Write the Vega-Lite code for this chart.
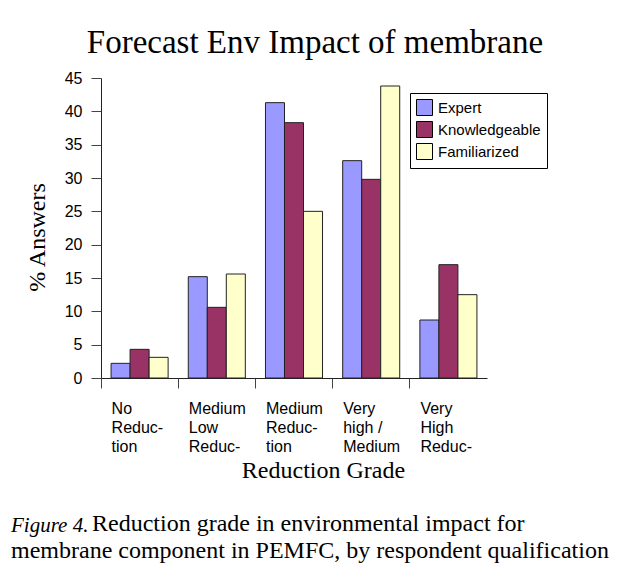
{
  "$schema": "https://vega.github.io/schema/vega-lite/v6.json",
  "autosize": {"type": "pad"},
  "padding": {"left": 11, "top": 27, "right": 5, "bottom": 5},
  "background": "white",
  "title": {
    "text": "Forecast Env Impact of membrane",
    "font": "Liberation Serif",
    "fontSize": 33,
    "fontWeight": "normal",
    "color": "black",
    "anchor": "middle",
    "dx": 5,
    "offset": 10
  },
  "vconcat": [
    {
      "title": {
        "text": "Reduction grade in environmental impact for",
        "orient": "bottom",
        "anchor": "start",
        "frame": "group",
        "dx": -9,
        "offset": -51,
        "font": "Liberation Serif",
        "fontStyle": "normal",
        "fontWeight": "normal",
        "fontSize": 24,
        "color": "black"
      },
      "vconcat": [
        {
          "width": 386,
          "height": 300,
          "title": {
            "text": "Figure 4.",
            "subtitle": "membrane component in PEMFC, by respondent qualification",
            "orient": "bottom",
            "anchor": "start",
            "frame": "group",
            "dx": -90,
            "offset": 33,
            "font": "Liberation Serif",
            "fontStyle": "italic",
            "fontWeight": "normal",
            "fontSize": 21,
            "color": "black",
            "subtitleFont": "Liberation Serif",
            "subtitleFontSize": 24,
            "subtitleColor": "black",
            "subtitlePadding": 3
          },
          "data": {
            "values": [
              {"grade": "No Reduction", "group": "Expert", "value": 2.2},
              {"grade": "No Reduction", "group": "Knowledgeable", "value": 4.3},
              {"grade": "No Reduction", "group": "Familiarized", "value": 3.1},
              {"grade": "Medium Low Reduction", "group": "Expert", "value": 15.2},
              {"grade": "Medium Low Reduction", "group": "Knowledgeable", "value": 10.6},
              {"grade": "Medium Low Reduction", "group": "Familiarized", "value": 15.6},
              {"grade": "Medium Reduction", "group": "Expert", "value": 41.3},
              {"grade": "Medium Reduction", "group": "Knowledgeable", "value": 38.3},
              {"grade": "Medium Reduction", "group": "Familiarized", "value": 25.0},
              {"grade": "Very high / Medium", "group": "Expert", "value": 32.6},
              {"grade": "Very high / Medium", "group": "Knowledgeable", "value": 29.8},
              {"grade": "Very high / Medium", "group": "Familiarized", "value": 43.8},
              {"grade": "Very High Reduction", "group": "Expert", "value": 8.7},
              {"grade": "Very High Reduction", "group": "Knowledgeable", "value": 17.0},
              {"grade": "Very High Reduction", "group": "Familiarized", "value": 12.5}
            ]
          },
          "mark": {"type": "bar", "stroke": "#222", "strokeWidth": 1},
          "encoding": {
            "x": {
              "field": "grade",
              "type": "nominal",
              "sort": ["No Reduction", "Medium Low Reduction", "Medium Reduction", "Very high / Medium", "Very High Reduction"],
              "scale": {"paddingInner": 0, "paddingOuter": 0},
              "axis": {
                "title": "Reduction Grade",
                "titleFont": "Liberation Serif",
                "titleFontSize": 24,
                "titleFontWeight": "normal",
                "titleColor": "black",
                "titleX": 222,
                "titlePadding": 4,
                "bandPosition": 0,
                "labelAngle": 0,
                "labelAlign": "left",
                "labelBaseline": "top",
                "labelOffset": -28,
                "labelPadding": 12,
                "labelFont": "Liberation Sans",
                "labelFontSize": 16,
                "labelLineHeight": 19,
                "labelColor": "black",
                "labelExpr": "datum.value == 'No Reduction' ? ['No', 'Reduc-', 'tion'] : datum.value == 'Medium Low Reduction' ? ['Medium', 'Low', 'Reduc-'] : datum.value == 'Medium Reduction' ? ['Medium', 'Reduc-', 'tion'] : datum.value == 'Very high / Medium' ? ['Very', 'high /', 'Medium'] : ['Very', 'High', 'Reduc-']",
                "tickSize": 10,
                "tickColor": "#444",
                "domainColor": "#222",
                "grid": false
              }
            },
            "xOffset": {
              "field": "group",
              "type": "nominal",
              "sort": ["Expert", "Knowledgeable", "Familiarized"],
              "scale": {"paddingInner": 0, "paddingOuter": 0.53}
            },
            "y": {
              "field": "value",
              "type": "quantitative",
              "scale": {"domain": [0, 45], "nice": false},
              "axis": {
                "title": "% Answers",
                "titleFont": "Liberation Serif",
                "titleFontSize": 24,
                "titleFontWeight": "normal",
                "titleColor": "black",
                "titlePadding": 15,
                "titleY": 159,
                "values": [0, 5, 10, 15, 20, 25, 30, 35, 40, 45],
                "labelFont": "Liberation Sans",
                "labelFontSize": 16,
                "labelColor": "black",
                "labelPadding": 9,
                "tickSize": 10,
                "tickColor": "#444",
                "domainColor": "#222",
                "grid": false
              }
            },
            "color": {
              "field": "group",
              "type": "nominal",
              "sort": ["Expert", "Knowledgeable", "Familiarized"],
              "scale": {"domain": ["Expert", "Knowledgeable", "Familiarized"], "range": ["#9999FF", "#993366", "#FFFFCC"]},
              "legend": {
                "title": null,
                "orient": "none",
                "legendX": 309,
                "legendY": 15,
                "strokeColor": "black",
                "fillColor": "white",
                "padding": 6,
                "symbolType": "square",
                "symbolSize": 256,
                "symbolStrokeColor": "black",
                "symbolStrokeWidth": 1,
                "symbolOpacity": 1,
                "labelFont": "Liberation Sans",
                "labelFontSize": 15,
                "labelColor": "black",
                "labelOffset": 5,
                "rowPadding": 1
              }
            }
          }
        }
      ]
    }
  ],
  "config": {
    "view": {"stroke": null},
    "concat": {"spacing": 0}
  }
}
